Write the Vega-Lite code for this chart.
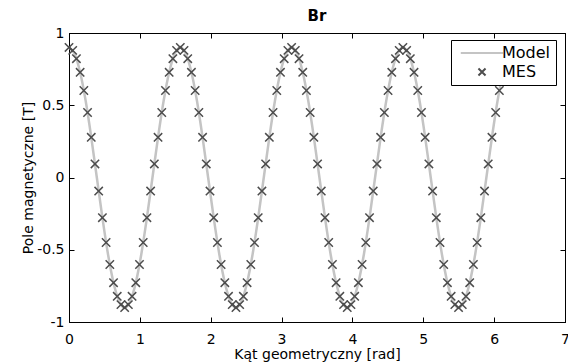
{
  "$schema": "https://vega.github.io/schema/vega-lite/v6.json",
  "width": 496,
  "height": 289,
  "autosize": {"type": "none"},
  "padding": {"left": 69, "top": 33, "right": 3, "bottom": 41},
  "background": "white",
  "title": {"text": "Br", "font": "DejaVu Sans", "fontSize": 15, "fontWeight": 600, "color": "black", "offset": 2, "frame": "group", "anchor": "middle"},
  "datasets": {
    "model": [
      {"x":0,"y":0.9},{"x":0.0785,"y":0.856},{"x":0.1571,"y":0.728},{"x":0.2356,"y":0.529},{"x":0.3142,"y":0.278},{"x":0.3927,"y":0},{"x":0.4712,"y":-0.278},{"x":0.5498,"y":-0.529},{"x":0.6283,"y":-0.728},{"x":0.7069,"y":-0.856},
      {"x":0.7854,"y":-0.9},{"x":0.8639,"y":-0.856},{"x":0.9425,"y":-0.728},{"x":1.021,"y":-0.529},{"x":1.0996,"y":-0.278},{"x":1.1781,"y":0},{"x":1.2566,"y":0.278},{"x":1.3352,"y":0.529},{"x":1.4137,"y":0.728},{"x":1.4923,"y":0.856},
      {"x":1.5708,"y":0.9},{"x":1.6493,"y":0.856},{"x":1.7279,"y":0.728},{"x":1.8064,"y":0.529},{"x":1.885,"y":0.278},{"x":1.9635,"y":0},{"x":2.042,"y":-0.278},{"x":2.1206,"y":-0.529},{"x":2.1991,"y":-0.728},{"x":2.2777,"y":-0.856},
      {"x":2.3562,"y":-0.9},{"x":2.4347,"y":-0.856},{"x":2.5133,"y":-0.728},{"x":2.5918,"y":-0.529},{"x":2.6704,"y":-0.278},{"x":2.7489,"y":0},{"x":2.8274,"y":0.278},{"x":2.906,"y":0.529},{"x":2.9845,"y":0.728},{"x":3.0631,"y":0.856},
      {"x":3.1416,"y":0.9},{"x":3.2201,"y":0.856},{"x":3.2987,"y":0.728},{"x":3.3772,"y":0.529},{"x":3.4558,"y":0.278},{"x":3.5343,"y":0},{"x":3.6128,"y":-0.278},{"x":3.6914,"y":-0.529},{"x":3.7699,"y":-0.728},{"x":3.8485,"y":-0.856},
      {"x":3.927,"y":-0.9},{"x":4.0055,"y":-0.856},{"x":4.0841,"y":-0.728},{"x":4.1626,"y":-0.529},{"x":4.2412,"y":-0.278},{"x":4.3197,"y":0},{"x":4.3982,"y":0.278},{"x":4.4768,"y":0.529},{"x":4.5553,"y":0.728},{"x":4.6339,"y":0.856},
      {"x":4.7124,"y":0.9},{"x":4.7909,"y":0.856},{"x":4.8695,"y":0.728},{"x":4.948,"y":0.529},{"x":5.0265,"y":0.278},{"x":5.1051,"y":0},{"x":5.1836,"y":-0.278},{"x":5.2622,"y":-0.529},{"x":5.3407,"y":-0.728},{"x":5.4193,"y":-0.856},
      {"x":5.4978,"y":-0.9},{"x":5.5763,"y":-0.856},{"x":5.6549,"y":-0.728},{"x":5.7334,"y":-0.529},{"x":5.8119,"y":-0.278},{"x":5.8905,"y":0},{"x":5.969,"y":0.278},{"x":6.0476,"y":0.529},{"x":6.1261,"y":0.728},{"x":6.2046,"y":0.856},
      {"x":6.2832,"y":0.9}
    ],
    "mes": [
      {"x":0,"y":0.9},{"x":0.0524,"y":0.88},{"x":0.1047,"y":0.822},{"x":0.1571,"y":0.728},{"x":0.2094,"y":0.602},{"x":0.2618,"y":0.45},{"x":0.3142,"y":0.278},{"x":0.3665,"y":0.094},{"x":0.4189,"y":-0.094},{"x":0.4712,"y":-0.278},
      {"x":0.5236,"y":-0.45},{"x":0.576,"y":-0.602},{"x":0.6283,"y":-0.728},{"x":0.6807,"y":-0.822},{"x":0.733,"y":-0.88},{"x":0.7854,"y":-0.9},{"x":0.8378,"y":-0.88},{"x":0.8901,"y":-0.822},{"x":0.9425,"y":-0.728},{"x":0.9948,"y":-0.602},
      {"x":1.0472,"y":-0.45},{"x":1.0996,"y":-0.278},{"x":1.1519,"y":-0.094},{"x":1.2043,"y":0.094},{"x":1.2566,"y":0.278},{"x":1.309,"y":0.45},{"x":1.3614,"y":0.602},{"x":1.4137,"y":0.728},{"x":1.4661,"y":0.822},{"x":1.5184,"y":0.88},
      {"x":1.5708,"y":0.9},{"x":1.6232,"y":0.88},{"x":1.6755,"y":0.822},{"x":1.7279,"y":0.728},{"x":1.7802,"y":0.602},{"x":1.8326,"y":0.45},{"x":1.885,"y":0.278},{"x":1.9373,"y":0.094},{"x":1.9897,"y":-0.094},{"x":2.042,"y":-0.278},
      {"x":2.0944,"y":-0.45},{"x":2.1468,"y":-0.602},{"x":2.1991,"y":-0.728},{"x":2.2515,"y":-0.822},{"x":2.3038,"y":-0.88},{"x":2.3562,"y":-0.9},{"x":2.4086,"y":-0.88},{"x":2.4609,"y":-0.822},{"x":2.5133,"y":-0.728},{"x":2.5656,"y":-0.602},
      {"x":2.618,"y":-0.45},{"x":2.6704,"y":-0.278},{"x":2.7227,"y":-0.094},{"x":2.7751,"y":0.094},{"x":2.8274,"y":0.278},{"x":2.8798,"y":0.45},{"x":2.9322,"y":0.602},{"x":2.9845,"y":0.728},{"x":3.0369,"y":0.822},{"x":3.0892,"y":0.88},
      {"x":3.1416,"y":0.9},{"x":3.194,"y":0.88},{"x":3.2463,"y":0.822},{"x":3.2987,"y":0.728},{"x":3.351,"y":0.602},{"x":3.4034,"y":0.45},{"x":3.4558,"y":0.278},{"x":3.5081,"y":0.094},{"x":3.5605,"y":-0.094},{"x":3.6128,"y":-0.278},
      {"x":3.6652,"y":-0.45},{"x":3.7176,"y":-0.602},{"x":3.7699,"y":-0.728},{"x":3.8223,"y":-0.822},{"x":3.8746,"y":-0.88},{"x":3.927,"y":-0.9},{"x":3.9794,"y":-0.88},{"x":4.0317,"y":-0.822},{"x":4.0841,"y":-0.728},{"x":4.1364,"y":-0.602},
      {"x":4.1888,"y":-0.45},{"x":4.2412,"y":-0.278},{"x":4.2935,"y":-0.094},{"x":4.3459,"y":0.094},{"x":4.3982,"y":0.278},{"x":4.4506,"y":0.45},{"x":4.5029,"y":0.602},{"x":4.5553,"y":0.728},{"x":4.6077,"y":0.822},{"x":4.66,"y":0.88},
      {"x":4.7124,"y":0.9},{"x":4.7648,"y":0.88},{"x":4.8171,"y":0.822},{"x":4.8695,"y":0.728},{"x":4.9218,"y":0.602},{"x":4.9742,"y":0.45},{"x":5.0265,"y":0.278},{"x":5.0789,"y":0.094},{"x":5.1313,"y":-0.094},{"x":5.1836,"y":-0.278},
      {"x":5.236,"y":-0.45},{"x":5.2883,"y":-0.602},{"x":5.3407,"y":-0.728},{"x":5.3931,"y":-0.822},{"x":5.4454,"y":-0.88},{"x":5.4978,"y":-0.9},{"x":5.5501,"y":-0.88},{"x":5.6025,"y":-0.822},{"x":5.6549,"y":-0.728},{"x":5.7072,"y":-0.602},
      {"x":5.7596,"y":-0.45},{"x":5.8119,"y":-0.278},{"x":5.8643,"y":-0.094},{"x":5.9166,"y":0.094},{"x":5.969,"y":0.278},{"x":6.0214,"y":0.45},{"x":6.0737,"y":0.602},{"x":6.1261,"y":0.728},{"x":6.1784,"y":0.822},{"x":6.2308,"y":0.88},
      {"x":6.2832,"y":0.9}
    ]
  },
  "layer": [
    {
      "data": {"name": "model"},
      "mark": {"type": "line", "strokeWidth": 2.5, "interpolate": "monotone"},
      "encoding": {
        "x": {"field": "x", "type": "quantitative", "scale": {"domain": [0, 7], "nice": false, "zero": false},
              "axis": {"title": "Kąt geometryczny [rad]", "values": [0,1,2,3,4,5,6,7], "labelExpr": "'' + datum.value", "labelPadding": 15, "titleY": 36, "titleBaseline": "alphabetic"}},
        "y": {"field": "y", "type": "quantitative", "scale": {"domain": [-1, 1], "nice": false, "zero": false},
              "axis": {"title": "Pole magnetyczne [T]", "values": [-1,-0.5,0,0.5,1], "labelExpr": "'' + datum.value", "labelPadding": 10, "titleX": -37, "titleY": 144.5, "titleBaseline": "alphabetic", "titleAngle": -90, "titleAlign": "center"}},
        "color": {"datum": "Model", "type": "nominal", "scale": {"domain": ["Model", "MES"], "range": ["#c4c4c4", "#4d4d4d"]}, "legend": {"title": null}}
      }
    },
    {
      "data": {"name": "mes"},
      "mark": {"type": "point", "filled": false, "size": 70, "strokeWidth": 1.5, "opacity": 1},
      "encoding": {
        "x": {"field": "x", "type": "quantitative", "axis": {"orient": "top", "labels": false, "title": null, "values": [0,1,2,3,4,5,6,7]}},
        "y": {"field": "y", "type": "quantitative", "axis": {"orient": "right", "labels": false, "title": null, "values": [-1,-0.5,0,0.5,1]}},
        "color": {"datum": "MES", "type": "nominal"},
        "shape": {"datum": "MES", "type": "nominal", "scale": {"domain": ["Model", "MES"], "range": ["M-6,0L6,0", "M-1,-1L1,1M-1,1L1,-1"]}, "legend": {"title": null}}
      }
    }
  ],
  "resolve": {"axis": {"x": "independent", "y": "independent"}},
  "config": {
    "font": "DejaVu Sans",
    "view": {"stroke": "black", "strokeWidth": 1},
    "axis": {"grid": false, "domainColor": "black", "domainWidth": 1, "tickColor": "black", "tickSize": -5, "tickWidth": 1, "labelColor": "black", "titleColor": "black", "labelFontSize": 14, "titleFontSize": 14, "titleFontWeight": "normal", "labelFlush": false, "labelOverlap": false},
    "legend": {"orient": "none", "legendX": 382, "legendY": 7, "labelFontSize": 16, "labelColor": "black", "strokeColor": "black", "fillColor": "white", "padding": 5, "symbolSize": 50, "symbolStrokeWidth": 2, "symbolOffset": 18, "labelOffset": 12, "rowPadding": 3}
  }
}
